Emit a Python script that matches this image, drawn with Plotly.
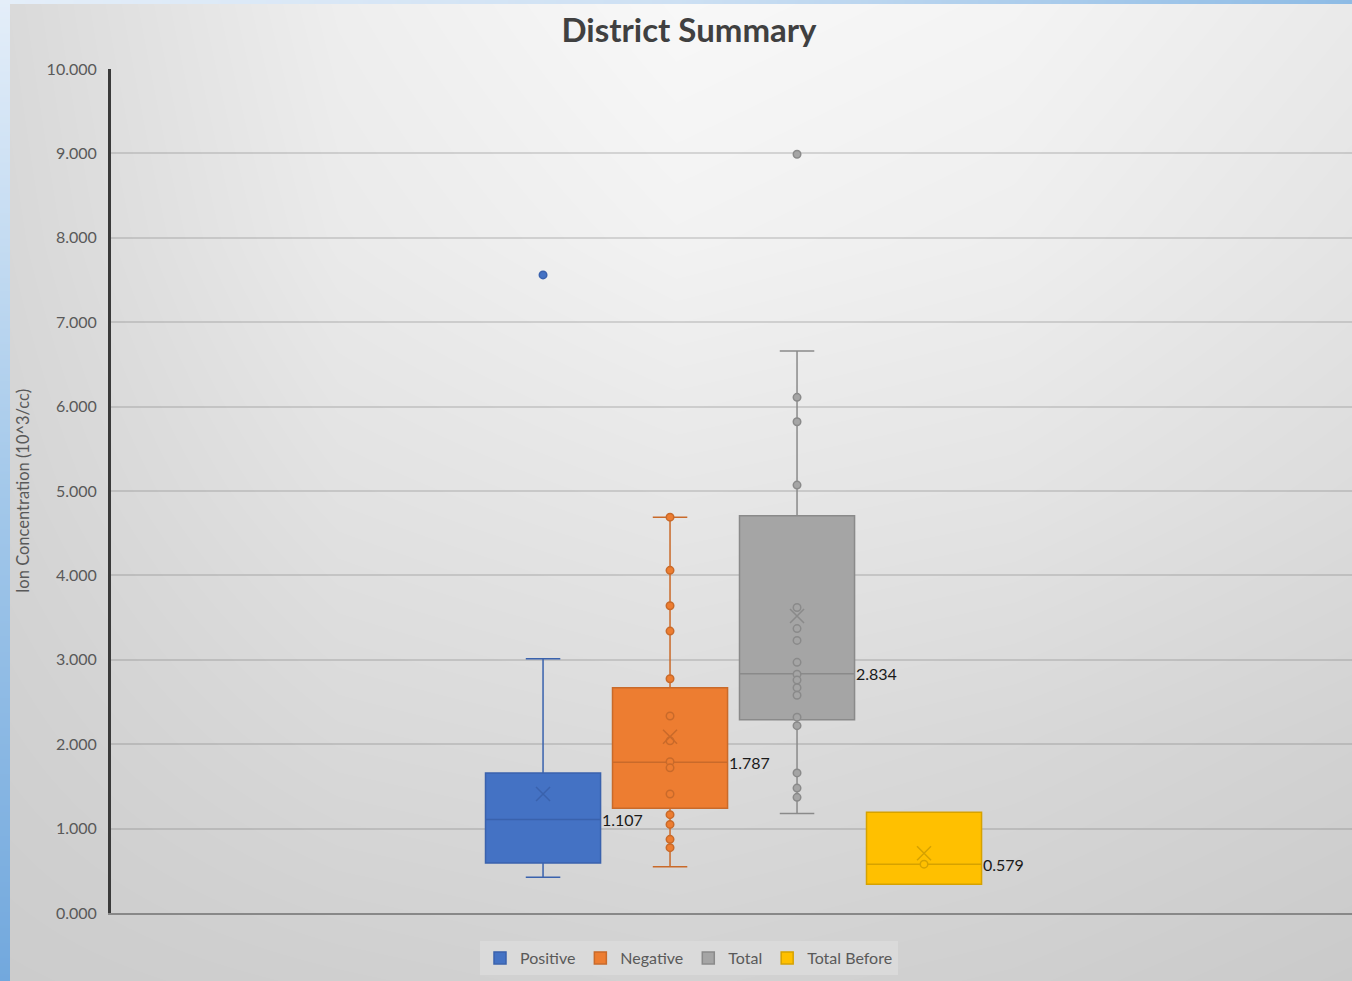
import plotly.graph_objects as go

# box statistics per series
categories = ["Positive", "Negative", "Total", "Total Before"]
q1 = [0.592, 1.240, 2.290, 0.340]
medians = [1.107, 1.787, 2.834, 0.579]
q3 = [1.659, 2.669, 4.707, 1.193]
lower_fence = [0.423, 0.549, 1.180, 0.340]
upper_fence = [3.013, 4.690, 6.660, 1.193]
means = [1.410, 2.089, 3.520, 0.707]

# individual points drawn on each box
positive_points = [7.56]
negative_points = [4.69, 4.06, 3.64, 3.34, 2.776, 2.334, 2.04, 1.793, 1.72,
                   1.41, 1.165, 1.05, 0.873, 0.774]
total_points = [8.99, 6.11, 5.82, 5.07, 3.62, 3.37, 3.23, 2.97, 2.83, 2.76,
                2.67, 2.58, 2.32, 2.22, 1.66, 1.48, 1.37]
total_before_points = [0.579]
series_points = [positive_points, negative_points, total_points, total_before_points]

fills = ["#4472c4", "#ed7d31", "#a5a5a5", "#ffc000"]
lines = ["#3a62ad", "#c96a2a", "#8a8a8a", "#d6a200"]

# background gradient of the screenshot (gray levels)
bg_x = [0, 338, 676, 1014, 1352]
bg_y = [0, 245, 490, 735, 981]
bg_gray = [
    [217, 238, 248, 244, 234],
    [215, 234, 242, 238, 228],
    [212, 226, 231, 228, 220],
    [208, 217, 220, 216, 210],
    [204, 207, 210, 207, 202],
]

W, H = 1352, 981
FONT = "Lato"

fig = go.Figure()

# backdrop on the lower subplot
fig.add_trace(go.Heatmap(
    x=bg_x, y=bg_y, z=bg_gray, zmin=0, zmax=255,
    colorscale=[[0, "black"], [1, "white"]], zsmooth="best",
    showscale=False, hoverinfo="skip", xaxis="x", yaxis="y",
))
# blue window frame, top and left
fig.add_trace(go.Heatmap(
    x=[0, 676, 1352], y=[0, 2, 4], z=[[1, 0.5, 0], [1, 0.5, 0]],
    zmin=0, zmax=1,
    colorscale=[[0, "#8dbbe5"], [0.5, "#cde0f3"], [1, "#e4eef9"]],
    zsmooth="best", showscale=False, hoverinfo="skip", xaxis="x", yaxis="y",
))
fig.add_trace(go.Heatmap(
    x=[0, 5, 10], y=[0, 490, 981], z=[[1, 1], [0.5, 0.5], [0, 0]],
    zmin=0, zmax=1,
    colorscale=[[0, "#72a8dd"], [0.5, "#a3c8ea"], [1, "#e4eef9"]],
    zsmooth="best", showscale=False, hoverinfo="skip", xaxis="x", yaxis="y",
))

for i, name in enumerate(categories):
    fig.add_trace(go.Box(
        x=[name], q1=[q1[i]], median=[medians[i]], q3=[q3[i]],
        lowerfence=[lower_fence[i]], upperfence=[upper_fence[i]],
        name=name, fillcolor=fills[i],
        line=dict(color=lines[i], width=1.5),
        whiskerwidth=0.3, width=0.906, boxpoints=False,
        xaxis="x2", yaxis="y2", hoverinfo="skip",
    ))
    pts = series_points[i]
    fig.add_trace(go.Scatter(
        x=[name] * len(pts), y=pts, mode="markers",
        marker=dict(symbol="circle", size=7.5, color=fills[i],
                    line=dict(color=lines[i], width=1.5)),
        showlegend=False, xaxis="x2", yaxis="y2", hoverinfo="skip",
    ))
    fig.add_trace(go.Scatter(
        x=[name], y=[means[i]], mode="markers",
        marker=dict(symbol="x-thin-open", size=14, color=lines[i],
                    line=dict(color=lines[i], width=1.5)),
        showlegend=False, xaxis="x2", yaxis="y2", hoverinfo="skip",
    ))
    # median data labels to the right of the box
    fig.add_annotation(
        x=name, y=medians[i], xref="x2", yref="y2",
        text=f"{medians[i]:.3f}", showarrow=False,
        xanchor="left", yanchor="middle", xshift=57,
        font=dict(family=FONT, size=16, color="#1a1a1a"),
    )

fig.add_annotation(
    x=23 / W, y=(1 - 913 / H + 1 - 69 / H) / 2, xref="paper", yref="paper",
    text="Ion Concentration (10^3/cc)", textangle=-90, showarrow=False,
    xanchor="center", yanchor="middle",
    font=dict(family=FONT, size=16.5, color="#595959"),
)

fig.update_layout(
    width=W, height=H,
    margin=dict(l=0, r=0, t=0, b=0),
    paper_bgcolor="#dedede",
    plot_bgcolor="rgba(0,0,0,0)",
    template="none",
    boxmode="overlay",
    title=dict(
        text="<b>District Summary</b>", x=689 / W, xanchor="center",
        y=1 - 30 / H, yanchor="middle",
        font=dict(family=FONT, size=33, color="#404040"),
    ),
    xaxis=dict(domain=[0, 1], range=[0, W], visible=False, anchor="y",
               fixedrange=True),
    yaxis=dict(domain=[0, 1], range=[H, 0], visible=False, anchor="x",
               fixedrange=True),
    xaxis2=dict(
        domain=[111 / W, 1], anchor="y2", range=[-3.402, 6.37],
        categoryorder="array", categoryarray=categories,
        showticklabels=False, showgrid=False, zeroline=False, ticks="",
        showline=True, linecolor="#888888", linewidth=2, automargin=False,
    ),
    yaxis2=dict(
        domain=[1 - 913 / H, 1 - 69 / H], anchor="x2", range=[0, 10],
        dtick=1, tickformat=".3f", ticks="", ticklabelstandoff=8,
        tickfont=dict(family=FONT, size=16, color="#595959"),
        showgrid=True, gridcolor="rgba(100,100,100,0.22)", gridwidth=2,
        zeroline=False, showline=True, linecolor="#3a3a3a", linewidth=3,
        automargin=False,
    ),
    legend=dict(
        orientation="h", x=689 / W, xanchor="center",
        y=1 - 958 / H, yanchor="middle",
        bgcolor="#dadada", borderwidth=0,
        font=dict(family=FONT, size=16, color="#595959"),
    ),
    showlegend=True,
)

# drop the browser's default 8px body margin so the figure fills the window
fig.write_html(
    "out.html",
    config={"displayModeBar": False},
    post_script="document.body.style.margin = '0';",
)
